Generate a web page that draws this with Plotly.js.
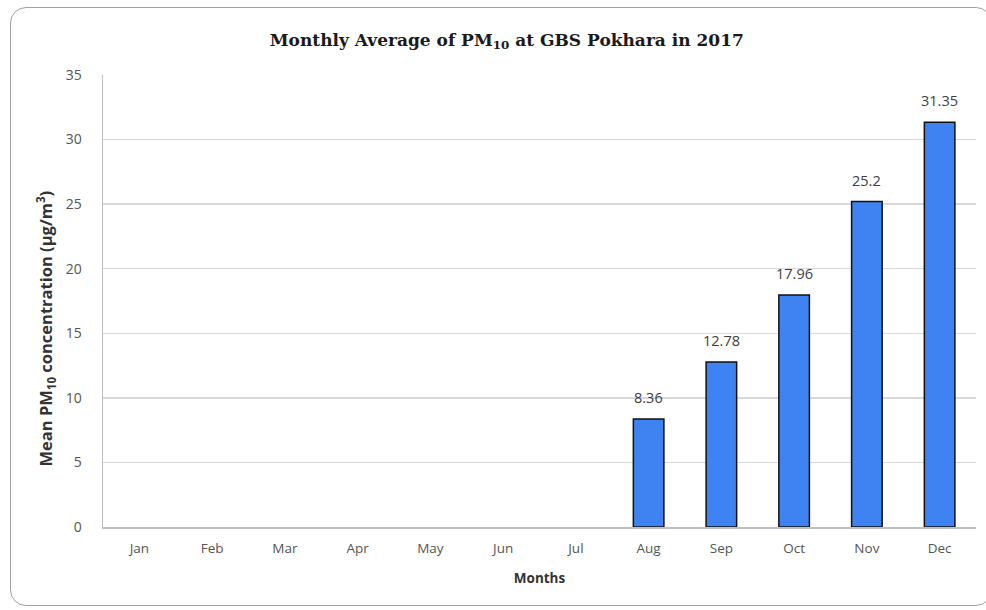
<!DOCTYPE html>
<html><head><meta charset="utf-8">
<script src="https://cdn.plot.ly/plotly-3.0.1.min.js"></script>
<style>
html,body{margin:0;padding:0;background:#fff;overflow:hidden}
#wrap{position:relative;width:986px;height:610px;overflow:hidden}
#chart{width:986px;height:610px}
#frame{position:absolute;left:10px;top:7px;width:982px;height:599px;border:1.5px solid #a0a0a0;border-radius:16px;pointer-events:none;box-sizing:border-box}
</style></head>
<body><div id="wrap"><div id="chart"></div><div id="frame"></div></div>
<script>
const months = ["Jan","Feb","Mar","Apr","May","Jun","Jul","Aug","Sep","Oct","Nov","Dec"];
const pm10 = [null,null,null,null,null,null,null,8.36,12.78,17.96,25.2,31.35];
const labels = ["","","","","","","","8.36","12.78","17.96","25.2","31.35"];
const yTitle = "<b>Mean PM<sub>10</sub> concentration (µg/m<sup>3</sup>)</b>";

const sans = "Open Sans, Liberation Sans, sans-serif";
const trace = {
  type:"bar", x:months, y:pm10,
  marker:{color:"#3f82f1", line:{color:"#111", width:1.5}},
  hoverinfo:"x+y"
};
const annotations = months.map((m,i)=> labels[i] ? {
  x:m, y:pm10[i], xref:"x", yref:"y", text:labels[i], showarrow:false,
  yanchor:"bottom", yshift:10, font:{family:sans, size:14.5, color:"#404040"}
} : null).filter(a=>a);
annotations.push({xref:"paper", yref:"paper", x:-0.066, y:0.44, xanchor:"center", yanchor:"middle",
  text:yTitle, textangle:-90, showarrow:false, font:{family:sans, size:16.5, color:"#333"}});

const layout = {
  width:986, height:610,
  margin:{l:103, r:10, t:75, b:83},
  paper_bgcolor:"#fff", plot_bgcolor:"#fff",
  bargap:0.58, showlegend:false, annotations,
  title:{text:"<b>Monthly Average of PM<sub>10</sub> at GBS Pokhara in 2017</b>",
    font:{family:"DejaVu Serif, Liberation Serif, serif", size:17, color:"#1a1a1a"},
    x:0.514, xanchor:"center", y:0.935, yanchor:"middle"},
  xaxis:{type:"category", tickfont:{family:sans, size:13.5, color:"#555"},
    showgrid:false, showline:true, linecolor:"#bfbfbf", linewidth:1.5, ticks:"", ticklabelstandoff:8,
    title:{text:"<b>Months</b>", font:{family:sans, size:13.5, color:"#333"}, standoff:18}},
  yaxis:{range:[0,35], dtick:5, tick0:0, tickfont:{family:sans, size:14, color:"#555"},
    showgrid:true, gridcolor:"#d9d9d9", gridwidth:1.5, zeroline:false,
    showline:true, linecolor:"#bfbfbf", linewidth:1.5, ticks:"", ticklabelstandoff:17}
};
Plotly.newPlot("chart",[trace],layout,{displayModeBar:false,staticPlot:true});
</script></body></html>
